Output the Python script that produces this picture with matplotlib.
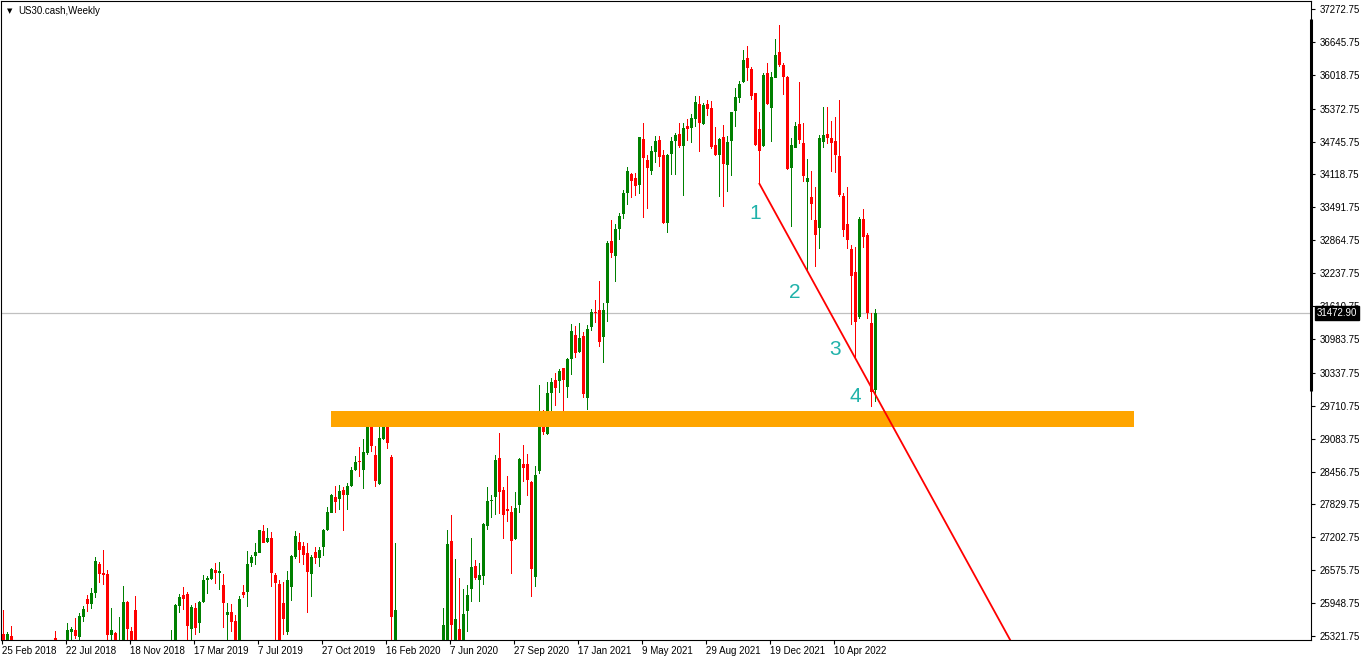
import matplotlib
matplotlib.use('Agg')
import matplotlib.pyplot as plt
import numpy as np

# ---------------- data (weekly OHLC, bar index 0 = 25 Feb 2018) ----------------
opens = [25360, 25100, 25320, 25050, 24500, 24200, 24600, 24800, 24300, 24700,
         25000, 24700, 24900, 25290, 25100, 24800, 25200, 25405, 25436, 25310,
         25690, 26027, 25932, 26136, 26694, 26528, 26504, 25341, 25385, 25000,
         25200, 25976, 25410, 25817, 25200, 24500, 23600, 23300, 22000, 23100,
         23800, 24100, 24600, 25150, 25894, 26103, 26122, 25450, 25849, 25564,
         25976, 26389, 26408, 26580, 26528, 26294, 25722, 25785, 25614, 25200,
         26167, 26167, 26707, 26847, 26910, 27329, 27119, 27183, 26485, 26313,
         25945, 25404, 26262, 26834, 27107, 27037, 26898, 26498, 26917, 26803,
         27012, 27342, 27672, 27977, 27933, 28105, 28009, 28181, 28486, 28663,
         28486, 28804, 29343, 28771, 28219, 29071, 29439, 28728, 25100, 25200,
         21200, 19200, 19200, 21000, 23700, 23800, 24100, 24300, 23600, 24500,
         25000, 25100, 27133, 25100, 25455, 25100, 25804, 26218, 26656, 26389,
         26466, 27424, 27895, 27977, 28720, 28105, 27742, 27691, 27171, 27819,
         28600, 28600, 28251, 26452, 28473, 29534, 29172, 29948, 30201, 30188,
         30424, 30074, 30596, 31059, 30741, 31040, 29863, 31217, 31503, 31535,
         31015, 31663, 32851, 32570, 33073, 33359, 33760, 34122, 34046, 33918,
         34795, 34394, 34191, 34553, 34776, 34490, 33199, 34509, 34763, 34890,
         34667, 35042, 35010, 35170, 35462, 35080, 35462, 35380, 34680, 34490,
         34827, 34299, 34763, 35334, 35582, 35887, 36333, 36129, 35665, 34985,
         34661, 36047, 35380, 35963, 36459, 36205, 35971, 34248, 34629, 35080,
         34724, 33981, 33683, 33251, 33092, 34743, 34890, 34820, 34763, 34471,
         33708, 33169, 32698, 32254, 31408, 33264, 32965, 31294, 30011]
highs = [25817, 25400, 25510, 25200, 24900, 24800, 25000, 25100, 24900, 25150,
         25200, 25100, 25200, 25420, 25200, 25200, 25563, 25500, 25670, 25760,
         25894, 26103, 26243, 26834, 26738, 26961, 26580, 25850, 25400, 25690,
         26275, 25990, 25490, 26084, 25250, 24800, 24000, 23700, 23300, 24000,
         24300, 24700, 25436, 25930, 26122, 26250, 26167, 25913, 25945, 25985,
         26485, 26465, 26624, 26707, 26738, 26504, 25957, 25932, 25722, 26084,
         26294, 26948, 26866, 27100, 27346, 27437, 27374, 27310, 26528, 26389,
         26357, 26567, 26866, 27323, 27278, 27119, 27088, 26866, 27024, 27024,
         27355, 27774, 28022, 28181, 28200, 28168, 28244, 28549, 28752, 28930,
         29076, 29406, 29387, 28943, 29490, 29578, 29502, 28771, 27088, 25250,
         23200, 20300, 22600, 23700, 24100, 24500, 24800, 24700, 24600, 25100,
         25849, 27342, 27628, 26790, 26422, 26218, 26294, 27184, 26770, 26707,
         27470, 28168, 28009, 28772, 29197, 28168, 28371, 27800, 28073, 28709,
         28962, 28791, 28276, 28562, 30106, 29629, 30169, 30233, 30329, 30405,
         30424, 30615, 31268, 31230, 31293, 31110, 31250, 31548, 31726, 32088,
         31663, 32856, 33251, 33169, 33378, 33823, 34267, 34152, 34140, 34839,
         35105, 34490, 34661, 34852, 34852, 34585, 34509, 34839, 34903, 35105,
         35094, 35176, 35265, 35620, 35620, 35487, 35538, 35519, 35029, 34808,
         35061, 34852, 35315, 35772, 35900, 36491, 36567, 36173, 35680, 35309,
         36047, 36237, 36066, 36701, 36968, 36237, 35995, 34808, 35124, 35887,
         35094, 34413, 34185, 33885, 34871, 35399, 35410, 35138, 35220, 35538,
         33760, 33885, 32774, 32742, 33302, 33454, 33009, 31472, 31548]
lows = [24900, 24900, 24800, 24300, 23800, 23900, 24300, 24100, 23900, 24500,
        24600, 24300, 24500, 24900, 24600, 24500, 25100, 25250, 25260, 25250,
        25594, 25785, 25830, 26040, 26326, 26294, 25200, 25200, 25100, 24900,
        25000, 25200, 24900, 25000, 24300, 23300, 22800, 21700, 21800, 22900,
        23500, 23900, 24500, 24900, 25766, 25817, 25200, 25200, 25341, 25373,
        25960, 26122, 26389, 26307, 26199, 25468, 25200, 25404, 24900, 24900,
        26052, 25881, 26643, 26675, 26898, 27088, 27088, 26262, 25200, 24900,
        25341, 25341, 25995, 26783, 26707, 26675, 25754, 26059, 26694, 26643,
        26847, 27330, 27660, 27672, 27723, 27329, 27723, 28156, 28473, 28358,
        28124, 28771, 28835, 28168, 28200, 29058, 28880, 22000, 24700, 21200,
        19100, 18200, 19100, 20700, 23000, 23600, 23300, 23000, 23300, 24200,
        24700, 24900, 25000, 24900, 24900, 24900, 25404, 25976, 26389, 25976,
        26294, 27342, 27565, 27628, 27647, 27171, 27489, 26504, 27151, 27660,
        28263, 27997, 26059, 26262, 28410, 29153, 29153, 29439, 29706, 29948,
        29414, 29863, 30296, 30615, 30710, 29852, 29630, 31141, 31282, 30824,
        30531, 31312, 32532, 32075, 32869, 33270, 33537, 33676, 33714, 33746,
        33283, 33455, 34109, 34331, 34267, 33180, 33009, 34109, 34109, 34617,
        33708, 34763, 34725, 35029, 34553, 35061, 35233, 34598, 34471, 33689,
        33505, 33790, 34090, 35029, 35475, 35856, 35906, 35538, 34660, 33950,
        34648, 35443, 34743, 35951, 36173, 35633, 34204, 33123, 34617, 34700,
        33981, 32298, 33251, 32349, 32692, 34617, 34700, 34172, 34140, 33695,
        32921, 32692, 31250, 30615, 31358, 32711, 31358, 29681, 29776]
closes = [25100, 25354, 25100, 24500, 24200, 24600, 24800, 24300, 24700, 25000,
          24700, 24900, 25150, 25100, 24800, 25150, 25436, 25450, 25322, 25703,
          25830, 25932, 26147, 26751, 26504, 26490, 25341, 25436, 25250, 25200,
          25976, 25450, 25150, 25200, 24500, 23600, 23300, 22000, 23100, 23800,
          24100, 24600, 25200, 25913, 26059, 26027, 25512, 25868, 25468, 25976,
          26389, 26433, 26599, 26517, 26567, 25945, 25785, 25594, 25150, 26021,
          26103, 26694, 26834, 26929, 27342, 27100, 27183, 26517, 26326, 25200,
          25640, 26389, 26847, 27228, 26961, 26866, 26548, 26822, 26803, 26961,
          27342, 27679, 28009, 27881, 28086, 28009, 28181, 28486, 28638, 28638,
          28835, 29324, 28943, 28276, 29090, 29439, 28995, 25690, 25817, 21200,
          19200, 19200, 21000, 23700, 23800, 24100, 24300, 23600, 24500, 25000,
          25532, 27075, 25532, 25646, 25100, 25741, 26103, 26631, 26433, 26485,
          27457, 27895, 27914, 28676, 28073, 27628, 27700, 27139, 27755, 28690,
          28530, 28295, 26599, 28390, 29502, 29216, 29948, 30169, 30043, 30378,
          30201, 30596, 31141, 30722, 31007, 29929, 31173, 31503, 31472, 30931,
          31535, 32807, 32628, 33079, 33327, 33771, 34185, 34000, 33905, 34839,
          34427, 34248, 34566, 34757, 34457, 33199, 34490, 34757, 34871, 34667,
          34998, 34979, 35189, 35506, 35094, 35443, 35360, 34648, 34490, 34789,
          34318, 34743, 35315, 35601, 35843, 36300, 36142, 35614, 34680, 34572,
          36015, 35462, 35971, 36396, 36205, 35971, 34217, 34680, 35042, 34776,
          34090, 34046, 33556, 32965, 34808, 34871, 34820, 34724, 34490, 33727,
          33060, 32870, 32189, 31301, 33270, 32932, 31472, 29967, 31472]

date_label_idx = [0, 16, 32, 48, 64, 80, 96, 112, 128, 144, 160, 176, 192, 208]
date_labels = ['25 Feb 2018', '22 Jul 2018', '18 Nov 2018', '17 Mar 2019',
               '7 Jul 2019', '27 Oct 2019', '16 Feb 2020', '7 Jun 2020',
               '27 Sep 2020', '17 Jan 2021', '9 May 2021', '29 Aug 2021',
               '19 Dec 2021', '10 Apr 2022']
price_ticks = [37272.75, 36645.75, 36018.75, 35372.75, 34745.75, 34118.75,
               33491.75, 32864.75, 32237.75, 31610.75, 30983.75, 30337.75,
               29710.75, 29083.75, 28456.75, 27829.75, 27202.75, 26575.75,
               25948.75, 25321.75]
last_price = 31472.90

zone_x = [82, 282.75]
zone_y = [29305, 29610]

trend_x = [189, 251.25]
trend_y = [33956, 25322]

wave_labels = ['1', '2', '3', '4']
wave_x = [188, 198, 208, 213]
wave_y = [33384, 31860, 30792, 29896]

# ---------------- figure ----------------
W, H = 1362, 660
fig = plt.figure(figsize=(W / 100, H / 100), dpi=100)
fig.patch.set_facecolor('white')
ax = fig.add_axes([1 / W, (H - 640) / H, 1310 / W, 639 / H])
ax.set_facecolor('white')

ax.set_xlim(-0.5, 327)
ax.set_ylim(25246, 37425)

GREEN = '#008000'
RED = '#FF0000'

o = np.array(opens, float)
h = np.array(highs, float)
l = np.array(lows, float)
c = np.array(closes, float)
x = np.arange(len(o))
cols = ['#008000' if cc >= oo else '#FF0000' for oo, cc in zip(o, c)]

# wicks (1 px wide) and bodies (3 px wide)
ax.bar(x, h - l, bottom=l, width=0.25, color=cols, linewidth=0,
       antialiased=False, zorder=3)
bottoms = np.minimum(o, c)
heights = np.maximum(np.abs(c - o), 19)
ax.bar(x, heights, bottom=bottoms, width=0.75, color=cols, linewidth=0,
       antialiased=False, zorder=4)

# support zone
ax.fill_between(zone_x, zone_y[0], zone_y[1], color='#FFA500', linewidth=0, zorder=5)

# current price line
ax.axhline(last_price, color='#C0C0C0', linewidth=0.9, zorder=1)

# trend line (extended beyond second anchor)
slope = (trend_y[1] - trend_y[0]) / (trend_x[1] - trend_x[0])
tx_end = 270
ax.plot([trend_x[0], tx_end], [trend_y[0], trend_y[0] + slope * (tx_end - trend_x[0])],
        color=RED, linewidth=1.3, zorder=6, solid_capstyle='butt')

for lab, wx, wy in zip(wave_labels, wave_x, wave_y):
    ax.text(wx, wy, lab, color='#20B2AA', fontsize=15, ha='center', va='center',
            family='Liberation Sans', zorder=7)

# axes styling
for s in ax.spines.values():
    s.set_color('black')
    s.set_linewidth(0.8)

ax.yaxis.tick_right()
ax.set_yticks(price_ticks)
ax.set_yticklabels([f'{p:.2f}' for p in price_ticks])
ax.tick_params(axis='y', direction='out', length=3, width=0.8, pad=3,
               labelsize=7, colors='black', left=False, right=True,
               labelleft=False, labelright=True)
for t in ax.get_yticklabels():
    t.set_family('Liberation Sans')

ax.set_xticks([i - 0.25 for i in date_label_idx])
ax.set_xticklabels(date_labels)
ax.tick_params(axis='x', direction='out', length=3, width=0.8, pad=1.5,
               labelsize=7, colors='black')
for t in ax.get_xticklabels():
    t.set_horizontalalignment('left')
    t.set_family('Liberation Sans')

# thick bar on the price scale
ax.plot([1.0, 1.0], [37082, 29992], color='black', linewidth=2.2,
        transform=ax.get_yaxis_transform(), clip_on=False, zorder=8,
        solid_capstyle='butt')

# current price label
ax.annotate(f'{last_price:.2f}', xy=(1, last_price),
            xycoords=('axes fraction', 'data'), xytext=(4.3, 0),
            textcoords='offset points', ha='left', va='center', color='white',
            fontsize=7, family='Liberation Sans',
            bbox=dict(boxstyle='square,pad=0.2', fc='black', ec='black'),
            annotation_clip=False, zorder=9)

# title
fig.text(7 / W, 1 - 11 / H, '\u25BC', fontsize=5, va='center', ha='left', color='black')
fig.text(18 / W, 1 - 11 / H, 'US30.cash,Weekly', fontsize=7, va='center', ha='left',
         color='black', family='Liberation Sans')

fig.savefig('out.png', dpi=100, facecolor='white')
